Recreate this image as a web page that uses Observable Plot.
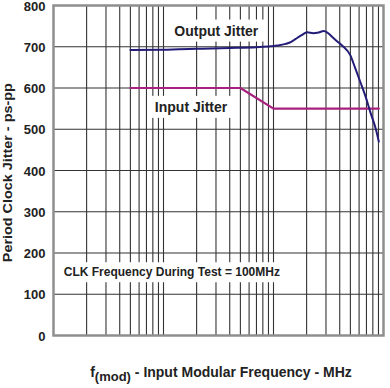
<!DOCTYPE html>
<html>
<head>
<meta charset="utf-8">
<script src="https://cdn.jsdelivr.net/npm/d3@7"></script>
<script src="https://cdn.jsdelivr.net/npm/@observablehq/plot@0.6"></script>
<style>
  html, body { margin: 0; padding: 0; background: #fff; }
</style>
</head>
<body>
<div id="chart"></div>
<script>
const xTicks = [0.01, 0.1, 1, 10];
const xTickLabels = ["0.01", "0.10", "1", "10"];
const yTicks = [0, 100, 200, 300, 400, 500, 600, 700, 800];
const xGrid = [0.02, 0.03, 0.04, 0.05, 0.06, 0.07, 0.08, 0.09,
               0.1, 0.2, 0.3, 0.4, 0.5, 0.6, 0.7, 0.8, 0.9,
               1, 2, 3, 4, 5, 6, 7, 8, 9];
const yGrid = [100, 200, 300, 400, 500, 600, 700];

const outputFreq   = [0.05, 0.1, 0.138, 0.2, 0.4, 0.7, 0.94, 1.1, 1.29, 1.45, 1.59, 1.8, 2.02, 2.3, 2.51, 2.87, 3.1, 3.44, 3.8, 4.2, 5.0, 5.5, 6.17, 6.9, 7.6, 8.5, 9.07];
const outputJitter = [692, 692.5, 694, 695, 697, 699, 701, 703, 707, 712, 719, 728, 735, 733, 734, 738, 734, 723, 713, 703, 679, 650, 614, 578, 541, 501, 470];

const inputFreq   = [0.05, 0.5, 1.0, 9.07];
const inputJitter = [600, 600, 550, 550];

const labelText = ["Output Jitter", "Input Jitter", "CLK Frequency During Test = 100MHz"];
const labelX = [0.302, 0.178, 0.0124];
const labelY = [738, 553, 153];
const labelAnchor = ["middle", "middle", "start"];
const labelSize = [14, 14, 12];

const yTitle = "Period Clock Jitter - ps-pp";
const xTitleParts = ["f", "(mod)", " - Input Modular Frequency - MHz"];

const outputData = outputFreq.map((f, i) => ({f, v: outputJitter[i]}));
const inputData = inputFreq.map((f, i) => ({f, v: inputJitter[i]}));
const labels = labelText.map((t, i) => ({t, x: labelX[i], y: labelY[i], a: labelAnchor[i], s: labelSize[i]}));

const font = "'Liberation Sans', Arial, Helvetica, sans-serif";

const chart = Plot.plot({
  width: 390,
  height: 388,
  marginLeft: 53,
  marginRight: 7,
  marginTop: 5,
  marginBottom: 53,
  style: {fontFamily: font, fontWeight: "bold", fontSize: "13px", background: "#fff", color: "#222"},
  x: {type: "log", domain: [0.01, 10], axis: null},
  y: {domain: [0, 800], axis: null},
  marks: [
    Plot.ruleX(xGrid, {x: d => d, stroke: "#333", strokeWidth: 1.1}),
    Plot.ruleY(yGrid, {y: d => d, stroke: "#333", strokeWidth: 1.1}),
    Plot.frame({stroke: "#8e8e8e", strokeWidth: 2.5}),
    Plot.axisX(xTicks, {tickSize: 0, tickPadding: 10, tickFormat: (d, i) => xTickLabels[i], label: null, fontWeight: "bold", fontSize: 13, fill: "#222", dx: 2}),
    Plot.axisY(yTicks, {tickSize: 0, tickPadding: 8, label: null, fontWeight: "bold", fontSize: 13, fill: "#222", dy: 1}),
    ...labels.map(l => Plot.text([l], {x: "x", y: "y", text: "t", textAnchor: l.a, fontSize: l.s, fontWeight: "bold", fill: "#222"})),
    Plot.line(inputData, {x: "f", y: "v", stroke: "#a8217f", strokeWidth: 2.2}),
    Plot.line(outputData, {x: "f", y: "v", stroke: "#231d78", strokeWidth: 2, curve: "monotone-x"})
  ]
});

document.getElementById("chart").appendChild(chart);

const ns = "http://www.w3.org/2000/svg";

// white boxes behind the in-plot labels
chart.querySelectorAll("text").forEach(t => {
  if (!labelText.includes(t.textContent)) return;
  const b = t.getBBox();
  const r = document.createElementNS(ns, "rect");
  r.setAttribute("x", b.x - 6);
  r.setAttribute("y", b.y - 3);
  r.setAttribute("width", b.width + 12);
  r.setAttribute("height", b.height + 6);
  r.setAttribute("fill", "#fff");
  if (t.getAttribute("transform")) r.setAttribute("transform", t.getAttribute("transform"));
  t.parentNode.insertBefore(r, t);
});

// axis titles
const svg = d3.select(chart);
svg.append("text")
  .attr("transform", "translate(11.5,172.7) rotate(-90)")
  .attr("text-anchor", "middle")
  .attr("font-family", font)
  .attr("font-weight", "bold")
  .attr("font-size", 12.5)
  .attr("fill", "#222")
  .attr("textLength", 179)
  .attr("lengthAdjust", "spacingAndGlyphs")
  .text(yTitle);

const xt = svg.append("text")
  .attr("x", 221)
  .attr("y", 377)
  .attr("text-anchor", "middle")
  .attr("font-family", font)
  .attr("font-weight", "bold")
  .attr("font-size", 14)
  .attr("fill", "#222");
xt.append("tspan").text(xTitleParts[0]);
xt.append("tspan").attr("dy", 3.5).attr("font-size", 13).text(xTitleParts[1]);
xt.append("tspan").attr("dy", -3.5).text(xTitleParts[2]);
</script>
</body>
</html>
